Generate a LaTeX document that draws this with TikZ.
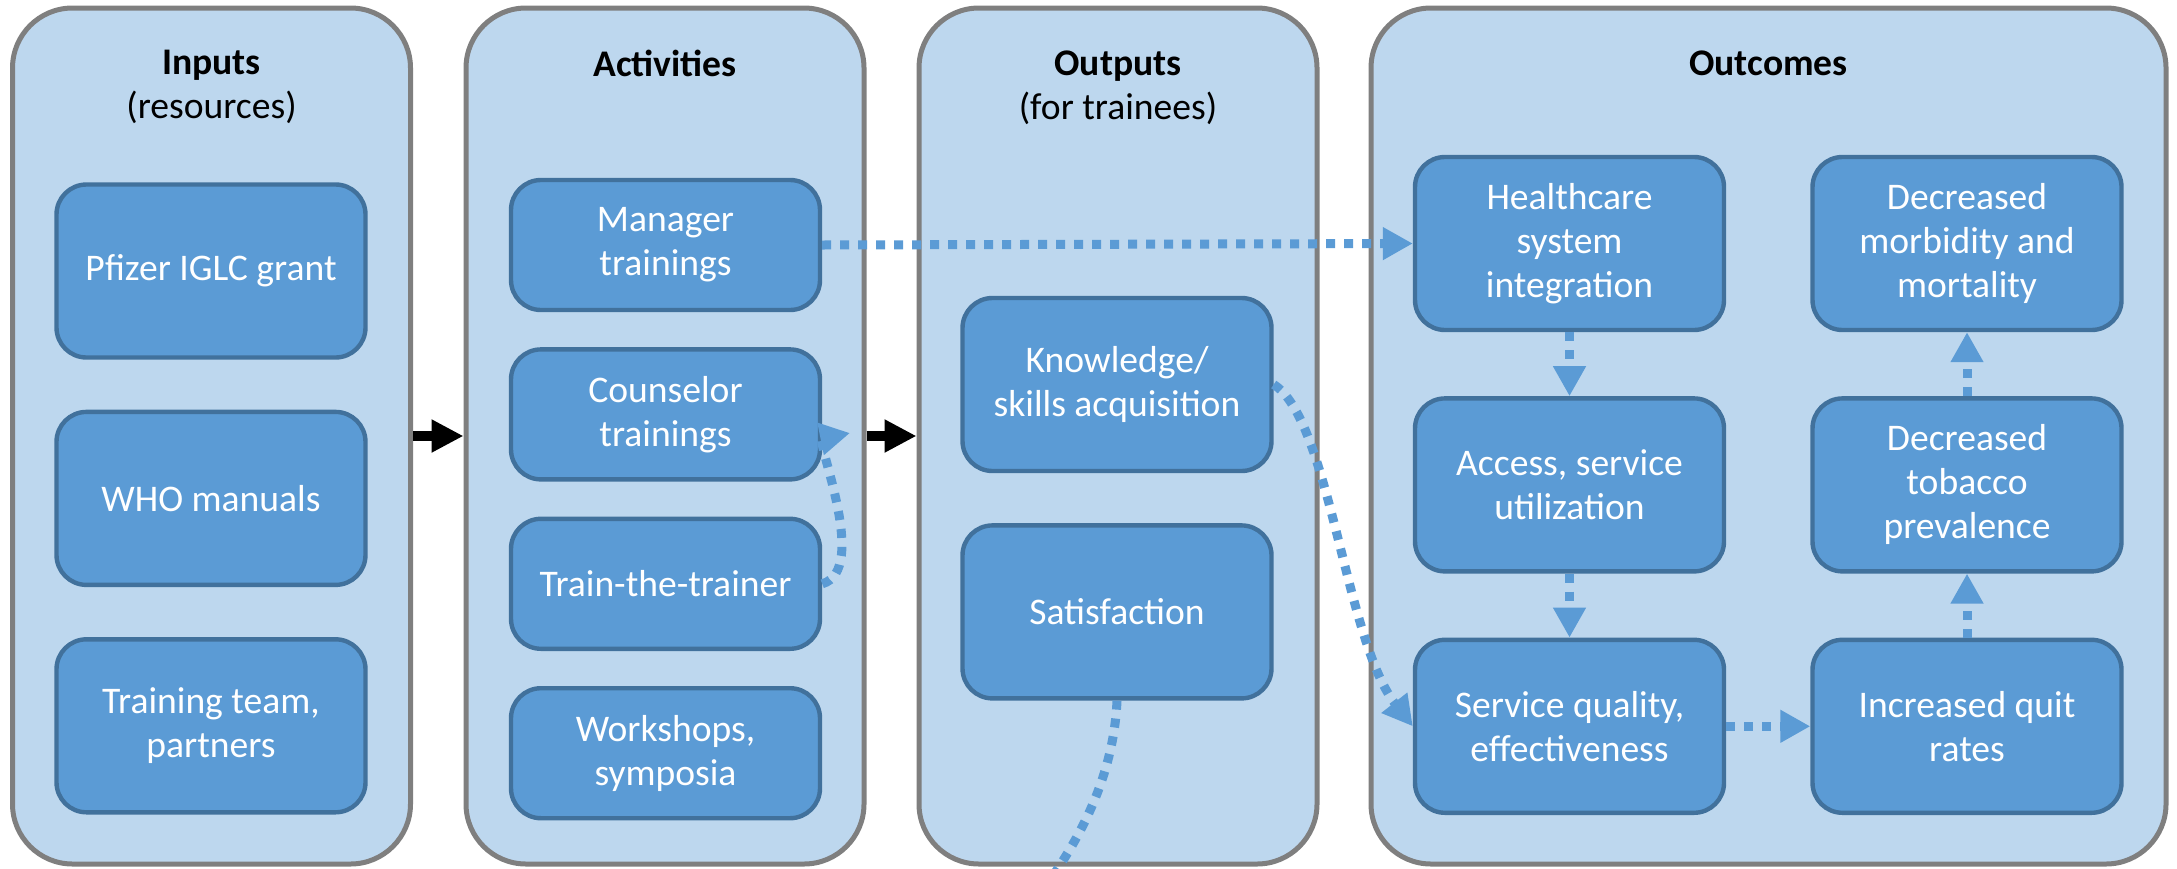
\documentclass[tikz,border=0pt]{standalone}
\usepackage{fontspec}
\setmainfont{Carlito}
\usetikzlibrary{arrows.meta, positioning}

\definecolor{panelblue}{HTML}{BDD7EE}
\definecolor{panelgray}{HTML}{7F7F7F}
\definecolor{boxblue}{HTML}{5B9BD5}
\definecolor{boxedge}{HTML}{41719C}

\begin{document}
\begin{tikzpicture}[
    x=0.5pt, y=-0.5pt, % pixel grid of the reference
    font=\fontsize{18.8}{22}\selectfont,
    panel/.style={rectangle, draw=panelgray, line width=2.5pt, fill=panelblue, rounded corners=30pt, minimum width=199pt, minimum height=428pt},
    heading/.style={anchor=north, inner sep=0pt, align=center, text=black},
    box/.style={rectangle, draw=boxedge, line width=2.2pt, fill=boxblue, rounded corners=15pt, text=white, align=center, minimum width=154.5pt, minimum height=86.5pt},
    smallbox/.style={box, minimum height=65pt},
    arrow/.style={-{Triangle[length=16pt, width=15.5pt]}, line width=5pt, black},
    dotline/.style={draw=boxblue, line width=4.5pt, dash pattern=on 4.5pt off 4.5pt},
    dotarrow/.style={dotline, -{Triangle[length=15pt, width=15.5pt]}}
]
\useasboundingbox (0,0) rectangle (2177,868);

% Columns
\node (inputs) [panel] at (211.5,436) {};
\node (activities) [panel] at (665,436) {};
\node (outputs) [panel] at (1118,436) {};
\node (outcomes) [panel, minimum width=397.5pt] at (1768.5,436) {};

% Column headings
\node (inputs_title) [heading] at (211.5,50) {\textbf{Inputs}\\(resources)};
\node (activities_title) [heading] at (665,50) {\textbf{Activities}};
\node (outputs_title) [heading] at (1118,50) {\textbf{Outputs}\\(for trainees)};
\node (outcomes_title) [heading] at (1768.5,50) {\textbf{Outcomes}};

% Inputs
\node (pfizer) [box] at (211,271) {Pfizer IGLC grant};
\node (who) [box, below=25pt of pfizer] {WHO manuals};
\node (team) [box, below=25pt of who] {Training team,\\partners};

% Activities
\node (manager) [smallbox] at (665.5,245) {Manager\\trainings};
\node (counselor) [smallbox, below=17.5pt of manager] {Counselor\\trainings};
\node (trainer) [smallbox, below=17.5pt of counselor] {Train-the-trainer};
\node (workshops) [smallbox, below=17.5pt of trainer] {Workshops,\\symposia};

% Outputs
\node (knowledge) [box] at (1117,384.5) {Knowledge/\\skills acquisition};
\node (satisfaction) [box, below=25pt of knowledge] {Satisfaction};

% Outcomes
\node (integration) [box] at (1569.5,243.5) {Healthcare\\system\\integration};
\node (access) [box, below=32pt of integration] {Access, service\\utilization};
\node (quality) [box, below=32pt of access] {Service quality,\\effectiveness};
\node (morbidity) [box] at (1967,243.5) {Decreased\\morbidity and\\mortality};
\node (prevalence) [box, below=32pt of morbidity] {Decreased\\tobacco\\prevalence};
\node (quitrates) [box, below=32pt of prevalence] {Increased quit\\rates};

% Loose ends
\coordinate (counselor_tip) at (850,433);
\coordinate (satisfaction_end) at (1050,880);

% Connections
\draw [arrow] (inputs) -- (activities);
\draw [arrow] (activities) -- (outputs);

\draw [dotarrow] (manager.east) -- (integration.west);
\draw [dotarrow] (trainer.east) .. controls (870,570) and (815,440) .. (counselor_tip);
\draw [dotarrow] (knowledge.east) .. controls (1330,420) and (1345,640) .. (quality.west);
\draw [dotline] (satisfaction.south) .. controls (1114,770) and (1085,830) .. (satisfaction_end);

\draw [dotarrow] (integration) -- (access);
\draw [dotarrow] (access) -- (quality);
\draw [dotarrow] (quality) -- (quitrates);
\draw [dotarrow] (quitrates) -- (prevalence);
\draw [dotarrow] (prevalence) -- (morbidity);

\end{tikzpicture}
\end{document}
